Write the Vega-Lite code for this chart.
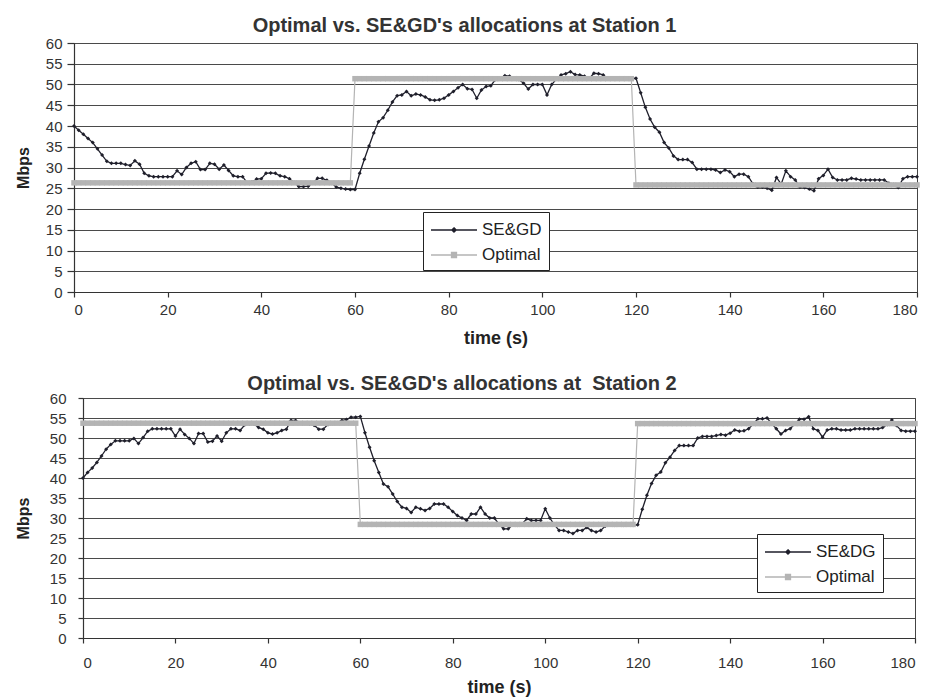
{
  "$schema": "https://vega.github.io/schema/vega-lite/v6.json",
  "background": "white",
  "padding": {"left": 13, "top": 15, "right": 5, "bottom": 0},
  "config": {
    "font": "Liberation Sans",
    "view": {"stroke": "#444", "strokeWidth": 1},
    "axis": {"labelFont": "Liberation Sans", "labelFontSize": 15, "labelColor": "#333", "labelOverlap": false, "titleFont": "Liberation Sans", "titleFontWeight": "bold", "titleColor": "#222", "domainColor": "#333", "tickColor": "#333", "gridColor": "#4a4a4a", "gridOpacity": 1, "gridWidth": 1, "domainWidth": 1.2, "tickWidth": 1.2},
    "title": {"font": "Liberation Sans", "fontSize": 20, "fontWeight": "bold", "color": "#333"},
    "legend": {"labelFont": "Liberation Sans"}
  },
  "spacing": 25,
  "resolve": {"scale": {"color": "independent"}, "legend": {"color": "independent"}},
  "datasets": {
    "s1": [
      {"t":0,"se":40,"opt":26.3},{"t":1,"se":39,"opt":26.3},{"t":2,"se":38,"opt":26.3},{"t":3,"se":37,"opt":26.3},{"t":4,"se":36,"opt":26.3},{"t":5,"se":34.5,"opt":26.3},{"t":6,"se":33,"opt":26.3},{"t":7,"se":31.5,"opt":26.3},{"t":8,"se":31,"opt":26.3},{"t":9,"se":31,"opt":26.3},
      {"t":10,"se":31,"opt":26.3},{"t":11,"se":30.7,"opt":26.3},{"t":12,"se":30.5,"opt":26.3},{"t":13,"se":31.6,"opt":26.3},{"t":14,"se":30.8,"opt":26.3},{"t":15,"se":28.6,"opt":26.3},{"t":16,"se":28,"opt":26.3},{"t":17,"se":27.8,"opt":26.3},{"t":18,"se":27.8,"opt":26.3},{"t":19,"se":27.8,"opt":26.3},
      {"t":20,"se":27.8,"opt":26.3},{"t":21,"se":27.8,"opt":26.3},{"t":22,"se":29.2,"opt":26.3},{"t":23,"se":28.3,"opt":26.3},{"t":24,"se":30,"opt":26.3},{"t":25,"se":31,"opt":26.3},{"t":26,"se":31.4,"opt":26.3},{"t":27,"se":29.5,"opt":26.3},{"t":28,"se":29.5,"opt":26.3},{"t":29,"se":31,"opt":26.3},
      {"t":30,"se":30.8,"opt":26.3},{"t":31,"se":29.6,"opt":26.3},{"t":32,"se":30.6,"opt":26.3},{"t":33,"se":29.3,"opt":26.3},{"t":34,"se":28,"opt":26.3},{"t":35,"se":27.8,"opt":26.3},{"t":36,"se":27.8,"opt":26.3},{"t":37,"se":26.3,"opt":26.3},{"t":38,"se":26.5,"opt":26.3},{"t":39,"se":27.2,"opt":26.3},
      {"t":40,"se":27.3,"opt":26.3},{"t":41,"se":28.6,"opt":26.3},{"t":42,"se":28.7,"opt":26.3},{"t":43,"se":28.6,"opt":26.3},{"t":44,"se":28,"opt":26.3},{"t":45,"se":27.8,"opt":26.3},{"t":46,"se":27.3,"opt":26.3},{"t":47,"se":26.4,"opt":26.3},{"t":48,"se":25.4,"opt":26.3},{"t":49,"se":25.4,"opt":26.3},
      {"t":50,"se":25.5,"opt":26.3},{"t":51,"se":26.2,"opt":26.3},{"t":52,"se":27.4,"opt":26.3},{"t":53,"se":27.4,"opt":26.3},{"t":54,"se":26.9,"opt":26.3},{"t":55,"se":26.2,"opt":26.3},{"t":56,"se":25.3,"opt":26.3},{"t":57,"se":25,"opt":26.3},{"t":58,"se":24.8,"opt":26.3},{"t":59,"se":24.7,"opt":26.3},
      {"t":60,"se":24.7,"opt":51.4},{"t":61,"se":28.6,"opt":51.4},{"t":62,"se":32,"opt":51.4},{"t":63,"se":35.2,"opt":51.4},{"t":64,"se":38.3,"opt":51.4},{"t":65,"se":41,"opt":51.4},{"t":66,"se":42,"opt":51.4},{"t":67,"se":43.8,"opt":51.4},{"t":68,"se":45.8,"opt":51.4},{"t":69,"se":47.3,"opt":51.4},
      {"t":70,"se":47.5,"opt":51.4},{"t":71,"se":48.3,"opt":51.4},{"t":72,"se":47.3,"opt":51.4},{"t":73,"se":47.7,"opt":51.4},{"t":74,"se":47.5,"opt":51.4},{"t":75,"se":47,"opt":51.4},{"t":76,"se":46.3,"opt":51.4},{"t":77,"se":46.2,"opt":51.4},{"t":78,"se":46.3,"opt":51.4},{"t":79,"se":46.7,"opt":51.4},
      {"t":80,"se":47.5,"opt":51.4},{"t":81,"se":48.3,"opt":51.4},{"t":82,"se":49.2,"opt":51.4},{"t":83,"se":50,"opt":51.4},{"t":84,"se":49,"opt":51.4},{"t":85,"se":48.8,"opt":51.4},{"t":86,"se":46.7,"opt":51.4},{"t":87,"se":48.7,"opt":51.4},{"t":88,"se":49.5,"opt":51.4},{"t":89,"se":49.7,"opt":51.4},
      {"t":90,"se":51.2,"opt":51.4},{"t":91,"se":51.4,"opt":51.4},{"t":92,"se":52.1,"opt":51.4},{"t":93,"se":52,"opt":51.4},{"t":94,"se":51.3,"opt":51.4},{"t":95,"se":51.2,"opt":51.4},{"t":96,"se":50.3,"opt":51.4},{"t":97,"se":48.9,"opt":51.4},{"t":98,"se":50,"opt":51.4},{"t":99,"se":50,"opt":51.4},
      {"t":100,"se":50,"opt":51.4},{"t":101,"se":47.5,"opt":51.4},{"t":102,"se":50,"opt":51.4},{"t":103,"se":51.3,"opt":51.4},{"t":104,"se":52.3,"opt":51.4},{"t":105,"se":52.6,"opt":51.4},{"t":106,"se":53.1,"opt":51.4},{"t":107,"se":52.4,"opt":51.4},{"t":108,"se":52.3,"opt":51.4},{"t":109,"se":52,"opt":51.4},
      {"t":110,"se":51.4,"opt":51.4},{"t":111,"se":52.7,"opt":51.4},{"t":112,"se":52.6,"opt":51.4},{"t":113,"se":52.3,"opt":51.4},{"t":114,"se":51.4,"opt":51.4},{"t":115,"se":51.3,"opt":51.4},{"t":116,"se":51.5,"opt":51.4},{"t":117,"se":51.4,"opt":51.4},{"t":118,"se":51.3,"opt":51.4},{"t":119,"se":51.4,"opt":51.4},
      {"t":120,"se":51.5,"opt":25.8},{"t":121,"se":48,"opt":25.8},{"t":122,"se":44.5,"opt":25.8},{"t":123,"se":41.7,"opt":25.8},{"t":124,"se":39.7,"opt":25.8},{"t":125,"se":38.5,"opt":25.8},{"t":126,"se":36,"opt":25.8},{"t":127,"se":34.7,"opt":25.8},{"t":128,"se":32.8,"opt":25.8},{"t":129,"se":31.9,"opt":25.8},
      {"t":130,"se":31.9,"opt":25.8},{"t":131,"se":31.9,"opt":25.8},{"t":132,"se":31.2,"opt":25.8},{"t":133,"se":29.6,"opt":25.8},{"t":134,"se":29.6,"opt":25.8},{"t":135,"se":29.6,"opt":25.8},{"t":136,"se":29.6,"opt":25.8},{"t":137,"se":29.4,"opt":25.8},{"t":138,"se":28.8,"opt":25.8},{"t":139,"se":29.4,"opt":25.8},
      {"t":140,"se":29,"opt":25.8},{"t":141,"se":27.8,"opt":25.8},{"t":142,"se":28.4,"opt":25.8},{"t":143,"se":28.4,"opt":25.8},{"t":144,"se":27.8,"opt":25.8},{"t":145,"se":26,"opt":25.8},{"t":146,"se":25.3,"opt":25.8},{"t":147,"se":25.3,"opt":25.8},{"t":148,"se":25,"opt":25.8},{"t":149,"se":24.5,"opt":25.8},
      {"t":150,"se":27.6,"opt":25.8},{"t":151,"se":26,"opt":25.8},{"t":152,"se":29.2,"opt":25.8},{"t":153,"se":27.8,"opt":25.8},{"t":154,"se":27,"opt":25.8},{"t":155,"se":25.3,"opt":25.8},{"t":156,"se":25.2,"opt":25.8},{"t":157,"se":24.8,"opt":25.8},{"t":158,"se":24.4,"opt":25.8},{"t":159,"se":27.3,"opt":25.8},
      {"t":160,"se":28.1,"opt":25.8},{"t":161,"se":29.6,"opt":25.8},{"t":162,"se":27.6,"opt":25.8},{"t":163,"se":27,"opt":25.8},{"t":164,"se":27,"opt":25.8},{"t":165,"se":27,"opt":25.8},{"t":166,"se":27.4,"opt":25.8},{"t":167,"se":27.2,"opt":25.8},{"t":168,"se":27,"opt":25.8},{"t":169,"se":27,"opt":25.8},
      {"t":170,"se":27,"opt":25.8},{"t":171,"se":27,"opt":25.8},{"t":172,"se":27,"opt":25.8},{"t":173,"se":27,"opt":25.8},{"t":174,"se":26.2,"opt":25.8},{"t":175,"se":25.9,"opt":25.8},{"t":176,"se":25.2,"opt":25.8},{"t":177,"se":27.3,"opt":25.8},{"t":178,"se":27.8,"opt":25.8},{"t":179,"se":27.8,"opt":25.8},
      {"t":180,"se":27.8,"opt":25.8}
    ],
    "s2": [
      {"t":0,"se":40,"opt":53.7},{"t":1,"se":41.4,"opt":53.7},{"t":2,"se":42.5,"opt":53.7},{"t":3,"se":43.9,"opt":53.7},{"t":4,"se":45.5,"opt":53.7},{"t":5,"se":47.2,"opt":53.7},{"t":6,"se":48.4,"opt":53.7},{"t":7,"se":49.3,"opt":53.7},{"t":8,"se":49.3,"opt":53.7},{"t":9,"se":49.3,"opt":53.7},
      {"t":10,"se":49.3,"opt":53.7},{"t":11,"se":49.9,"opt":53.7},{"t":12,"se":48.6,"opt":53.7},{"t":13,"se":50.1,"opt":53.7},{"t":14,"se":51.7,"opt":53.7},{"t":15,"se":52.3,"opt":53.7},{"t":16,"se":52.3,"opt":53.7},{"t":17,"se":52.3,"opt":53.7},{"t":18,"se":52.3,"opt":53.7},{"t":19,"se":52.3,"opt":53.7},
      {"t":20,"se":50.5,"opt":53.7},{"t":21,"se":52.2,"opt":53.7},{"t":22,"se":50.9,"opt":53.7},{"t":23,"se":49.9,"opt":53.7},{"t":24,"se":48.6,"opt":53.7},{"t":25,"se":51.1,"opt":53.7},{"t":26,"se":51.1,"opt":53.7},{"t":27,"se":49,"opt":53.7},{"t":28,"se":49.2,"opt":53.7},{"t":29,"se":50.5,"opt":53.7},
      {"t":30,"se":49.2,"opt":53.7},{"t":31,"se":51.3,"opt":53.7},{"t":32,"se":52.3,"opt":53.7},{"t":33,"se":52.3,"opt":53.7},{"t":34,"se":51.9,"opt":53.7},{"t":35,"se":53.3,"opt":53.7},{"t":36,"se":53.5,"opt":53.7},{"t":37,"se":53.5,"opt":53.7},{"t":38,"se":52.6,"opt":53.7},{"t":39,"se":52.2,"opt":53.7},
      {"t":40,"se":51.3,"opt":53.7},{"t":41,"se":51,"opt":53.7},{"t":42,"se":51.3,"opt":53.7},{"t":43,"se":51.9,"opt":53.7},{"t":44,"se":52.2,"opt":53.7},{"t":45,"se":54.4,"opt":53.7},{"t":46,"se":54.4,"opt":53.7},{"t":47,"se":53.7,"opt":53.7},{"t":48,"se":53.6,"opt":53.7},{"t":49,"se":53.5,"opt":53.7},
      {"t":50,"se":53.2,"opt":53.7},{"t":51,"se":52.2,"opt":53.7},{"t":52,"se":52.2,"opt":53.7},{"t":53,"se":53.4,"opt":53.7},{"t":54,"se":53.6,"opt":53.7},{"t":55,"se":53.8,"opt":53.7},{"t":56,"se":54.4,"opt":53.7},{"t":57,"se":54.6,"opt":53.7},{"t":58,"se":55.2,"opt":53.7},{"t":59,"se":55.2,"opt":53.7},
      {"t":60,"se":55.4,"opt":28.4},{"t":61,"se":51.3,"opt":28.4},{"t":62,"se":47.7,"opt":28.4},{"t":63,"se":44.3,"opt":28.4},{"t":64,"se":41.4,"opt":28.4},{"t":65,"se":38.5,"opt":28.4},{"t":66,"se":37.8,"opt":28.4},{"t":67,"se":36,"opt":28.4},{"t":68,"se":34.1,"opt":28.4},{"t":69,"se":32.7,"opt":28.4},
      {"t":70,"se":32.4,"opt":28.4},{"t":71,"se":31.4,"opt":28.4},{"t":72,"se":32.7,"opt":28.4},{"t":73,"se":32.3,"opt":28.4},{"t":74,"se":31.9,"opt":28.4},{"t":75,"se":32.4,"opt":28.4},{"t":76,"se":33.5,"opt":28.4},{"t":77,"se":33.5,"opt":28.4},{"t":78,"se":33.5,"opt":28.4},{"t":79,"se":32.7,"opt":28.4},
      {"t":80,"se":31.6,"opt":28.4},{"t":81,"se":30.6,"opt":28.4},{"t":82,"se":30,"opt":28.4},{"t":83,"se":29.4,"opt":28.4},{"t":84,"se":31,"opt":28.4},{"t":85,"se":31,"opt":28.4},{"t":86,"se":32.7,"opt":28.4},{"t":87,"se":31,"opt":28.4},{"t":88,"se":30,"opt":28.4},{"t":89,"se":30,"opt":28.4},
      {"t":90,"se":28.4,"opt":28.4},{"t":91,"se":27.3,"opt":28.4},{"t":92,"se":27.3,"opt":28.4},{"t":93,"se":28.3,"opt":28.4},{"t":94,"se":28.2,"opt":28.4},{"t":95,"se":28.5,"opt":28.4},{"t":96,"se":29.8,"opt":28.4},{"t":97,"se":29.4,"opt":28.4},{"t":98,"se":29.4,"opt":28.4},{"t":99,"se":29.4,"opt":28.4},
      {"t":100,"se":32.3,"opt":28.4},{"t":101,"se":30,"opt":28.4},{"t":102,"se":28.3,"opt":28.4},{"t":103,"se":26.9,"opt":28.4},{"t":104,"se":26.9,"opt":28.4},{"t":105,"se":26.5,"opt":28.4},{"t":106,"se":26.1,"opt":28.4},{"t":107,"se":26.9,"opt":28.4},{"t":108,"se":26.9,"opt":28.4},{"t":109,"se":27.6,"opt":28.4},
      {"t":110,"se":26.9,"opt":28.4},{"t":111,"se":26.5,"opt":28.4},{"t":112,"se":26.9,"opt":28.4},{"t":113,"se":28,"opt":28.4},{"t":114,"se":28.3,"opt":28.4},{"t":115,"se":28.2,"opt":28.4},{"t":116,"se":28.3,"opt":28.4},{"t":117,"se":28.2,"opt":28.4},{"t":118,"se":28.3,"opt":28.4},{"t":119,"se":28.2,"opt":28.4},
      {"t":120,"se":28.3,"opt":53.6},{"t":121,"se":32.2,"opt":53.6},{"t":122,"se":35.7,"opt":53.6},{"t":123,"se":38.6,"opt":53.6},{"t":124,"se":40.7,"opt":53.6},{"t":125,"se":41.5,"opt":53.6},{"t":126,"se":43.8,"opt":53.6},{"t":127,"se":45.2,"opt":53.6},{"t":128,"se":46.9,"opt":53.6},{"t":129,"se":48.1,"opt":53.6},
      {"t":130,"se":48.1,"opt":53.6},{"t":131,"se":48.1,"opt":53.6},{"t":132,"se":48.1,"opt":53.6},{"t":133,"se":50,"opt":53.6},{"t":134,"se":50.4,"opt":53.6},{"t":135,"se":50.4,"opt":53.6},{"t":136,"se":50.4,"opt":53.6},{"t":137,"se":50.6,"opt":53.6},{"t":138,"se":50.9,"opt":53.6},{"t":139,"se":50.7,"opt":53.6},
      {"t":140,"se":51.2,"opt":53.6},{"t":141,"se":52,"opt":53.6},{"t":142,"se":51.7,"opt":53.6},{"t":143,"se":51.8,"opt":53.6},{"t":144,"se":52.3,"opt":53.6},{"t":145,"se":53.5,"opt":53.6},{"t":146,"se":54.8,"opt":53.6},{"t":147,"se":54.8,"opt":53.6},{"t":148,"se":55,"opt":53.6},{"t":149,"se":53.6,"opt":53.6},
      {"t":150,"se":52.3,"opt":53.6},{"t":151,"se":51,"opt":53.6},{"t":152,"se":51.9,"opt":53.6},{"t":153,"se":52.3,"opt":53.6},{"t":154,"se":53.5,"opt":53.6},{"t":155,"se":54.7,"opt":53.6},{"t":156,"se":54.7,"opt":53.6},{"t":157,"se":55.3,"opt":53.6},{"t":158,"se":52.3,"opt":53.6},{"t":159,"se":51.9,"opt":53.6},
      {"t":160,"se":50.2,"opt":53.6},{"t":161,"se":52,"opt":53.6},{"t":162,"se":52.3,"opt":53.6},{"t":163,"se":52.3,"opt":53.6},{"t":164,"se":52,"opt":53.6},{"t":165,"se":52,"opt":53.6},{"t":166,"se":52,"opt":53.6},{"t":167,"se":52.3,"opt":53.6},{"t":168,"se":52.3,"opt":53.6},{"t":169,"se":52.3,"opt":53.6},
      {"t":170,"se":52.3,"opt":53.6},{"t":171,"se":52.3,"opt":53.6},{"t":172,"se":52.3,"opt":53.6},{"t":173,"se":52.6,"opt":53.6},{"t":174,"se":53.4,"opt":53.6},{"t":175,"se":54.5,"opt":53.6},{"t":176,"se":53.1,"opt":53.6},{"t":177,"se":51.9,"opt":53.6},{"t":178,"se":51.7,"opt":53.6},{"t":179,"se":51.7,"opt":53.6},
      {"t":180,"se":51.7,"opt":53.6}
    ],
    "blank": [{"k": 0}]
  },
  "vconcat": [
    {
      "spacing": 0,
      "hconcat": [
        {"width": 1, "height": 1, "view": {"stroke": null}, "data": {"name": "blank"}, "mark": {"type": "point", "size": 0, "opacity": 0}, "encoding": {}},
        {
          "width": 843,
          "height": 249,
          "title": {"text": "Optimal vs. SE&GD's allocations at Station 1", "dx": -31, "offset": 0},
          "data": {"name": "s1"},
          "encoding": {
            "x": {"field": "t", "type": "quantitative", "scale": {"domain": [0, 180], "nice": false, "zero": false},
                  "axis": {"values": [0,20,40,60,80,100,120,140,160,180], "title": "time (s)", "titleFontSize": 18, "grid": false, "tickSize": 5, "labelPadding": 5, "titlePadding": 12}}
          },
          "layer": [
            {
              "mark": {"type": "line", "strokeWidth": 1.3},
              "encoding": {
                "y": {"field": "se", "type": "quantitative", "scale": {"domain": [0, 60], "nice": false},
                      "axis": {"values": [0,5,10,15,20,25,30,35,40,45,50,55,60], "title": "Mbps", "titleFontSize": 16, "grid": true, "tickSize": 7, "labelPadding": 5, "titlePadding": 14}},
                "color": {"datum": "SE&GD", "scale": {"domain": ["SE&GD", "Optimal"], "range": ["#1f1f2b", "#b4b4b4"]},
                          "legend": {"title": null, "orient": "none", "legendX": 410, "legendY": 169, "strokeColor": "#222", "fillColor": "white", "padding": 7, "labelFontSize": 17, "labelColor": "#222", "symbolSize": 400, "symbolStrokeWidth": 1.3, "rowPadding": 6, "labelOffset": 30,
                                     "symbolType": "M-1,0H3.6M1.3,-0.22L1.52,0L1.3,0.22L1.08,0Z",
                                     "encode": {"symbols": {"update": {"shape": {"signal": "datum.value === 'Optimal' ? 'M-1,0H3.6M1.05,-0.25H1.55V0.25H1.05Z' : 'M-1,0H3.6M1.3,-0.22L1.52,0L1.3,0.22L1.08,0Z'"}, "fill": {"signal": "datum.value === 'Optimal' ? '#b4b4b4' : '#1f1f2b'"}, "fillOpacity": {"value": 1}}}}}}
              }
            },
            {
              "mark": {"type": "point", "shape": "diamond", "filled": true, "size": 16, "color": "#1f1f2b", "opacity": 1},
              "encoding": {"y": {"field": "se", "type": "quantitative", "scale": {"domain": [0, 60], "nice": false},
                      "axis": {"values": [0,5,10,15,20,25,30,35,40,45,50,55,60], "title": "Mbps", "titleFontSize": 16, "grid": true, "tickSize": 7, "labelPadding": 5, "titlePadding": 14}}}
            },
            {
              "mark": {"type": "line", "strokeWidth": 1.2},
              "encoding": {"y": {"field": "opt", "type": "quantitative", "scale": {"domain": [0, 60], "nice": false},
                      "axis": {"values": [0,5,10,15,20,25,30,35,40,45,50,55,60], "title": "Mbps", "titleFontSize": 16, "grid": true, "tickSize": 7, "labelPadding": 5, "titlePadding": 14}}, "color": {"datum": "Optimal"}}
            },
            {
              "mark": {"type": "point", "shape": "square", "filled": true, "size": 30, "color": "#b4b4b4", "opacity": 1},
              "encoding": {"y": {"field": "opt", "type": "quantitative", "scale": {"domain": [0, 60], "nice": false},
                      "axis": {"values": [0,5,10,15,20,25,30,35,40,45,50,55,60], "title": "Mbps", "titleFontSize": 16, "grid": true, "tickSize": 7, "labelPadding": 5, "titlePadding": 14}}}
            }
          ]
        }
      ]
    },
    {
      "spacing": 0,
      "hconcat": [
        {"width": 1, "height": 1, "view": {"stroke": null}, "data": {"name": "blank"}, "mark": {"type": "point", "size": 0, "opacity": 0}, "encoding": {}},
        {
          "width": 832,
          "height": 240,
          "title": {"text": "Optimal vs. SE&GD's allocations at \u00a0Station 2", "dx": -37, "offset": -3},
          "data": {"name": "s2"},
          "encoding": {
            "x": {"field": "t", "type": "quantitative", "scale": {"domain": [0, 180], "nice": false, "zero": false},
                  "axis": {"values": [0,20,40,60,80,100,120,140,160,180], "title": "time (s)", "titleFontSize": 18, "grid": false, "tickSize": 5, "labelPadding": 12, "titlePadding": 8}}
          },
          "layer": [
            {
              "mark": {"type": "line", "strokeWidth": 1.3},
              "encoding": {
                "y": {"field": "se", "type": "quantitative", "scale": {"domain": [0, 60], "nice": false},
                      "axis": {"values": [0,5,10,15,20,25,30,35,40,45,50,55,60], "title": "Mbps", "titleFontSize": 16, "grid": true, "tickSize": 5, "labelPadding": 12, "titlePadding": 18}},
                "color": {"datum": "SE&DG", "scale": {"domain": ["SE&DG", "Optimal"], "range": ["#1f1f2b", "#b4b4b4"]},
                          "legend": {"title": null, "orient": "none", "legendX": 744, "legendY": 136, "strokeColor": "#222", "fillColor": "white", "padding": 7, "labelFontSize": 17, "labelColor": "#222", "symbolSize": 400, "symbolStrokeWidth": 1.3, "rowPadding": 6, "labelOffset": 30,
                                     "symbolType": "M-1,0H3.6M1.3,-0.22L1.52,0L1.3,0.22L1.08,0Z",
                                     "encode": {"symbols": {"update": {"shape": {"signal": "datum.value === 'Optimal' ? 'M-1,0H3.6M1.05,-0.25H1.55V0.25H1.05Z' : 'M-1,0H3.6M1.3,-0.22L1.52,0L1.3,0.22L1.08,0Z'"}, "fill": {"signal": "datum.value === 'Optimal' ? '#b4b4b4' : '#1f1f2b'"}, "fillOpacity": {"value": 1}}}}}}
              }
            },
            {
              "mark": {"type": "point", "shape": "diamond", "filled": true, "size": 16, "color": "#1f1f2b", "opacity": 1},
              "encoding": {"y": {"field": "se", "type": "quantitative", "scale": {"domain": [0, 60], "nice": false},
                      "axis": {"values": [0,5,10,15,20,25,30,35,40,45,50,55,60], "title": "Mbps", "titleFontSize": 16, "grid": true, "tickSize": 5, "labelPadding": 12, "titlePadding": 18}}}
            },
            {
              "mark": {"type": "line", "strokeWidth": 1.2},
              "encoding": {"y": {"field": "opt", "type": "quantitative", "scale": {"domain": [0, 60], "nice": false},
                      "axis": {"values": [0,5,10,15,20,25,30,35,40,45,50,55,60], "title": "Mbps", "titleFontSize": 16, "grid": true, "tickSize": 5, "labelPadding": 12, "titlePadding": 18}}, "color": {"datum": "Optimal"}}
            },
            {
              "mark": {"type": "point", "shape": "square", "filled": true, "size": 30, "color": "#b4b4b4", "opacity": 1},
              "encoding": {"y": {"field": "opt", "type": "quantitative", "scale": {"domain": [0, 60], "nice": false},
                      "axis": {"values": [0,5,10,15,20,25,30,35,40,45,50,55,60], "title": "Mbps", "titleFontSize": 16, "grid": true, "tickSize": 5, "labelPadding": 12, "titlePadding": 18}}}
            }
          ]
        }
      ]
    }
  ]
}
